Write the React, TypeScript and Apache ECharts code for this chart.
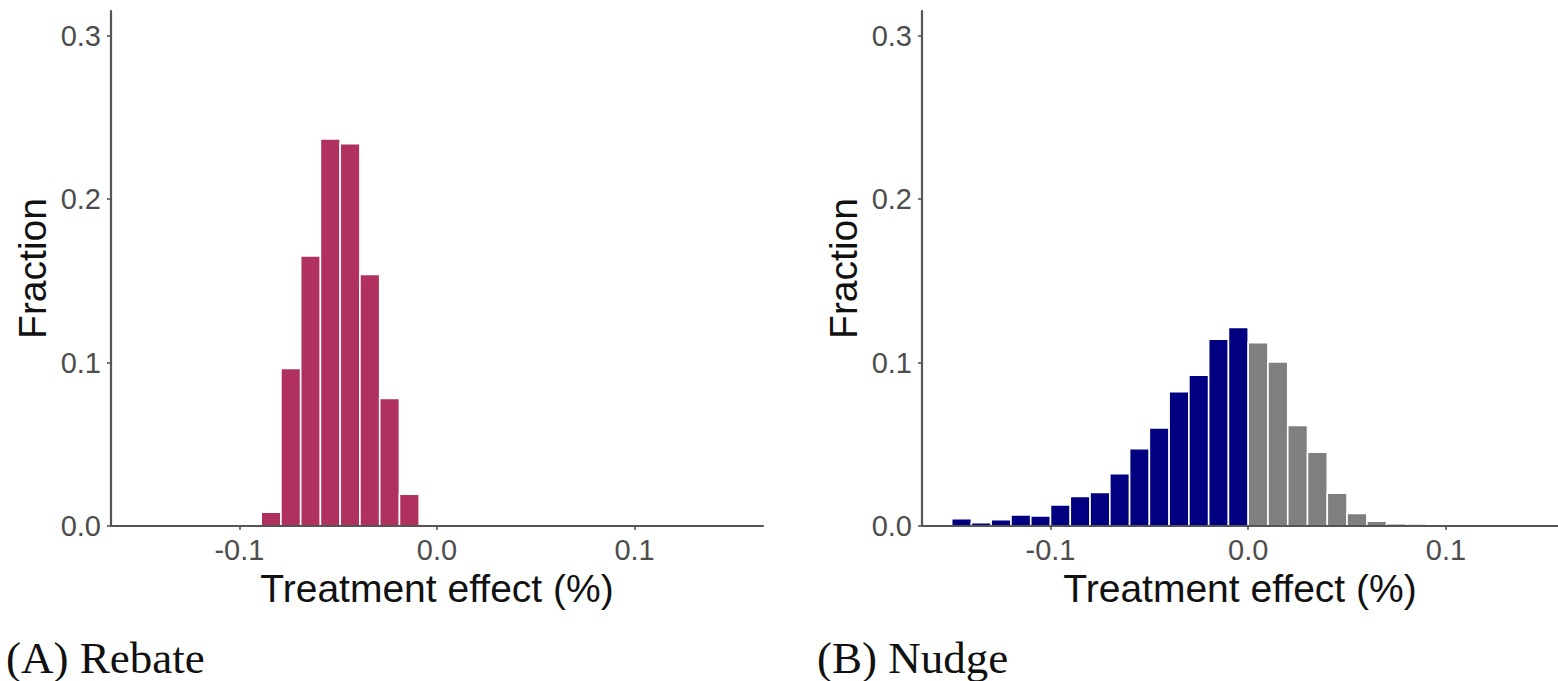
import React, { useEffect, useRef } from "react";
import * as echarts from "echarts";

// ---------- data ----------
const BIN_WIDTH = 0.01;

const rebateBinCenters = [-0.084, -0.074, -0.064, -0.054, -0.044, -0.034, -0.024, -0.014];
const rebateFractions = [0.0084, 0.0963, 0.1651, 0.2368, 0.2338, 0.1539, 0.078, 0.0195];

const nudgeBinCenters = [
  -0.145, -0.135, -0.125, -0.115, -0.105, -0.095, -0.085, -0.075, -0.065, -0.055, -0.045, -0.035,
  -0.025, -0.015, -0.005, 0.005, 0.015, 0.025, 0.035, 0.045, 0.055, 0.065, 0.075, 0.085,
];
const nudgeFractions = [
  0.0045, 0.002, 0.0039, 0.0068, 0.0061, 0.0129, 0.018, 0.0205, 0.032, 0.0473, 0.06, 0.0822,
  0.0922, 0.1143, 0.1215, 0.1121, 0.1004, 0.0615, 0.0451, 0.0201, 0.0076, 0.0029, 0.0014, 0.0012,
];

const yTicks = [0, 0.1, 0.2, 0.3];
const xTicks = [-0.1, 0, 0.1];

const panelCaptions = ["(A) Rebate", "(B) Nudge"];
const xAxisTitle = "Treatment effect (%)";
const yAxisTitle = "Fraction";

// ---------- styles ----------
const REBATE_COLOR = "#B03060";
const NUDGE_NEG_COLOR = "#000080";
const NUDGE_POS_COLOR = "#7F7F7F";
const AXIS_COLOR = "#555555";
const TICK_LABEL_COLOR = "#4D4D4D";
const SANS = "'Liberation Sans', Arial, sans-serif";
const SERIF = "'Liberation Serif', 'Times New Roman', serif";

function histRender(colorFor: (x: number) => string) {
  return (params: any, api: any) => {
    const x = api.value(0);
    const y = api.value(1);
    const p0 = api.coord([x - BIN_WIDTH / 2, y]);
    const p1 = api.coord([x + BIN_WIDTH / 2, 0]);
    return {
      type: "rect",
      shape: { x: p0[0], y: p0[1], width: p1[0] - p0[0], height: p1[1] - p0[1] },
      style: { fill: colorFor(x), stroke: "#ffffff", lineWidth: 1.6 },
    };
  };
}

function makeXAxis(gridIndex: number, min: number, max: number) {
  return {
    type: "value",
    gridIndex,
    min,
    max,
    z: 5,
    splitLine: { show: false },
    axisLine: { show: true, onZero: false, lineStyle: { color: AXIS_COLOR, width: 2.2 } },
    axisTick: { show: true, length: 4, customValues: xTicks, lineStyle: { color: AXIS_COLOR, width: 1.6 } },
    axisLabel: {
      customValues: xTicks,
      formatter: (v: number) => v.toFixed(1),
      color: TICK_LABEL_COLOR,
      fontFamily: SANS,
      fontSize: 29,
      margin: 9,
    },
    name: xAxisTitle,
    nameLocation: "middle",
    nameGap: 41,
    nameTextStyle: { color: "#111", fontFamily: SANS, fontSize: 39 },
  };
}

function makeYAxis(gridIndex: number) {
  return {
    type: "value",
    gridIndex,
    min: 0,
    max: 0.315,
    z: 5,
    splitLine: { show: false },
    axisLine: { show: true, onZero: false, lineStyle: { color: AXIS_COLOR, width: 2.2 } },
    axisTick: { show: true, length: 4, customValues: yTicks, lineStyle: { color: AXIS_COLOR, width: 1.6 } },
    axisLabel: {
      customValues: yTicks,
      formatter: (v: number) => v.toFixed(1),
      color: TICK_LABEL_COLOR,
      fontFamily: SANS,
      fontSize: 29,
      margin: 10,
    },
    name: yAxisTitle,
    nameLocation: "middle",
    nameGap: 59,
    nameTextStyle: { color: "#111", fontFamily: SANS, fontSize: 39 },
  };
}

export default function App() {
  const ref = useRef<HTMLDivElement>(null);

  useEffect(() => {
    if (!ref.current) return;
    const chart = echarts.init(ref.current, undefined, { renderer: "svg" });
    const option: any = {
      animation: false,
      backgroundColor: "#ffffff",
      grid: [
        { left: 111, top: 11, width: 652, height: 515 },
        { left: 922, top: 11, width: 636, height: 515 },
      ],
      xAxis: [makeXAxis(0, -0.165, 0.165), makeXAxis(1, -0.165, 0.1567)],
      yAxis: [makeYAxis(0), makeYAxis(1)],
      series: [
        {
          type: "custom",
          xAxisIndex: 0,
          yAxisIndex: 0,
          z: 2,
          renderItem: histRender(() => REBATE_COLOR),
          data: rebateBinCenters.map((c, i) => [c, rebateFractions[i]]),
        },
        {
          type: "custom",
          xAxisIndex: 1,
          yAxisIndex: 1,
          z: 2,
          renderItem: histRender((x) => (x < 0 ? NUDGE_NEG_COLOR : NUDGE_POS_COLOR)),
          data: nudgeBinCenters.map((c, i) => [c, nudgeFractions[i]]),
        },
      ],
      graphic: [
        {
          type: "text",
          left: 6,
          top: 635,
          style: { text: panelCaptions[0], fill: "#111", font: `45px ${SERIF}` },
        },
        {
          type: "text",
          left: 817,
          top: 635,
          style: { text: panelCaptions[1], fill: "#111", font: `45px ${SERIF}` },
        },
      ],
    };
    chart.setOption(option);
    return () => chart.dispose();
  }, []);

  return (
    <div
      ref={ref}
      style={{ position: "fixed", left: 0, top: 0, width: 1558, height: 681, background: "#fff" }}
    />
  );
}
